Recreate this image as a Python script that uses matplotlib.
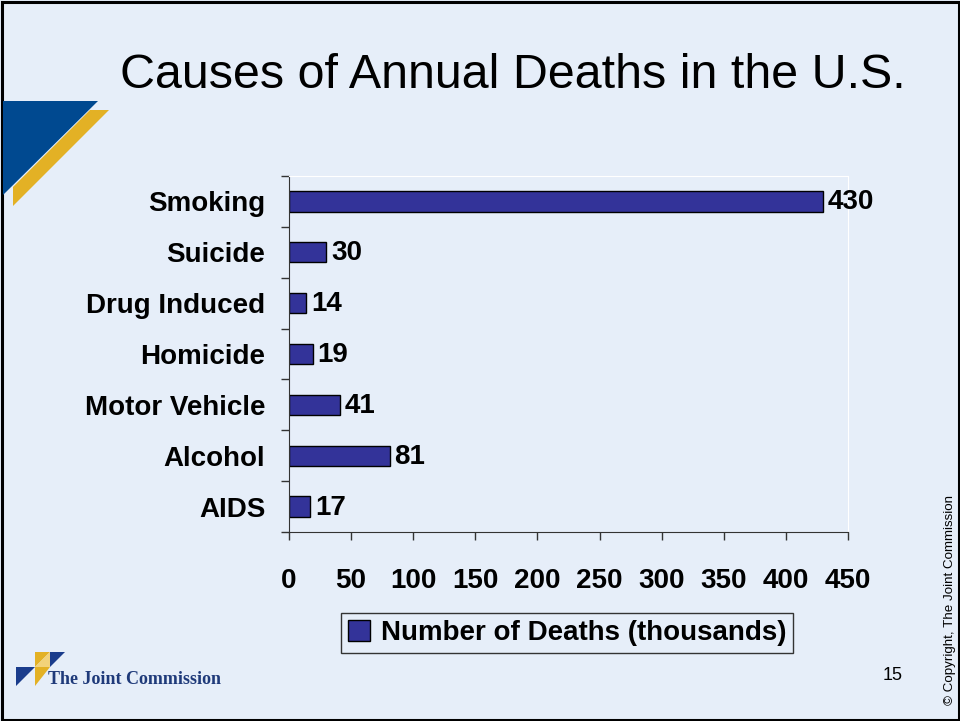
import matplotlib
matplotlib.use("Agg")
import matplotlib.pyplot as plt
from matplotlib.patches import Polygon, Rectangle, Patch
import numpy as np

categories = ["Smoking", "Suicide", "Drug Induced", "Homicide", "Motor Vehicle", "Alcohol", "AIDS"]
deaths = [430, 30, 14, 19, 41, 81, 17]
xticks = [0, 50, 100, 150, 200, 250, 300, 350, 400, 450]
title = "Causes of Annual Deaths in the U.S."
legend_label = "Number of Deaths (thousands)"

BG = "#E6EEF9"
BAR = "#333399"
plt.rcParams['font.family'] = ['Liberation Sans', 'DejaVu Sans']

W, H = 960, 721
fig = plt.figure(figsize=(W/100, H/100), dpi=100, facecolor=BG)

def fx(x): return x / W
def fy(y): return 1 - y / H

# frame
fig.patches.append(Rectangle((fx(1.5), fy(719.5)), fx(957), (717.5)/H, transform=fig.transFigure,
                             fill=False, edgecolor="black", linewidth=2.2))
# decoration
fig.patches.append(Polygon([(fx(90), fy(110)), (fx(109), fy(110)), (fx(13), fy(206)), (fx(13), fy(187))],
                           closed=True, transform=fig.transFigure, facecolor="#E3B125", edgecolor="none"))
fig.patches.append(Polygon([(fx(3), fy(101)), (fx(98), fy(101)), (fx(3), fy(195))],
                           closed=True, transform=fig.transFigure, facecolor="#004990", edgecolor="none"))

# logo
logo = [
    ([(35, 652), (50, 652), (35, 667)], "#E3B125"),
    ([(50, 652), (65, 652), (50, 667)], "#1A3C8C"),
    ([(50, 652), (50, 667), (35, 667)], "#F2D27A"),
    ([(16, 667), (35, 667), (16, 686)], "#1A3C8C"),
    ([(35, 667), (50, 667), (35, 686)], "#E3B125"),
]
for pts, c in logo:
    fig.patches.append(Polygon([(fx(a), fy(b)) for a, b in pts], closed=True,
                               transform=fig.transFigure, facecolor=c, edgecolor="none"))
fig.text(fx(48), fy(679), "The Joint Commission", fontsize=13, color="#1F3A7A",
         family=["Liberation Serif", "DejaVu Serif"], fontweight="bold", va="center", ha="left")

fig.text(fx(513), fy(75), title, fontsize=34.8, ha="center", va="center", color="black")
fig.text(fx(893), fy(676), "15", fontsize=13, ha="center", va="center")
fig.text(fx(950), fy(600), "\u00a9 Copyright, The Joint Commission", fontsize=9.6, rotation=90,
         ha="center", va="center")

FS = 20
ax = fig.add_axes([fx(289), fy(532), (848 - 289) / W, (532 - 176) / H])
ax.set_facecolor(BG)
y = np.arange(len(categories))
ax.barh(y, deaths, height=0.4, color=BAR, edgecolor="black", linewidth=1)
ax.set_ylim(len(categories) - 0.5, -0.5)
ax.set_xlim(0, 450)
ax.set_yticks(y)
ax.set_yticklabels(categories, fontsize=FS, fontweight="bold")
ax.set_yticks(np.arange(-0.5, len(categories)), minor=True)
ax.tick_params(axis="y", which="major", length=0, pad=17)
ax.tick_params(axis="y", which="minor", length=6, width=1, direction="out", color="#333333")
ax.set_xticks(xticks)
ax.set_xticklabels([str(t) for t in xticks], fontsize=FS, fontweight="bold")
ax.tick_params(axis="x", length=6, width=1, direction="out", pad=20, color="#333333")
for v, yy in zip(deaths, y):
    ax.text(v + 4, yy + 0.02, str(v), fontsize=FS, fontweight="bold", va="center", ha="left")
for s in ["top", "right"]:
    ax.spines[s].set_color("white")
for s in ["left", "bottom"]:
    ax.spines[s].set_color("#333333")

handle = Patch(facecolor=BAR, edgecolor="black", label=legend_label)
leg = fig.legend(handles=[handle], loc="center", bbox_to_anchor=(fx(567), fy(633)),
                 prop={"size": 20, "weight": "bold"}, frameon=True, fancybox=False,
                 edgecolor="#333333", facecolor=BG, handlelength=0.8, handleheight=0.8,
                 handletextpad=0.4, borderpad=0.25)
leg.get_frame().set_linewidth(1)
leg.get_frame().set_alpha(1)

fig.savefig("out.png", dpi=100, facecolor=BG)
